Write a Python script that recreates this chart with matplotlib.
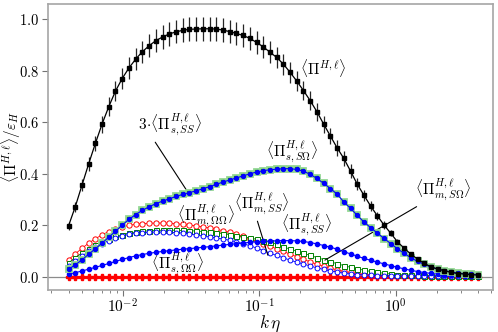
import math
import matplotlib
matplotlib.use("Agg")
import matplotlib.pyplot as plt
from matplotlib.ticker import FixedLocator, FuncFormatter, LogLocator, NullFormatter

plt.rcParams["mathtext.fontset"] = "cm"
plt.rcParams["font.family"] = "serif"
plt.rcParams["font.serif"] = ["DejaVu Serif"]

# wavenumber grid (k eta)
k_eta = [0.00400, 0.00448, 0.00502, 0.00562, 0.00629, 0.00704, 0.00789, 0.00883,
         0.00989, 0.01108, 0.01241, 0.01389, 0.01556, 0.01743, 0.01952, 0.02186,
         0.02448, 0.02741, 0.03070, 0.03438, 0.03850, 0.04312, 0.04829, 0.05408,
         0.06056, 0.06782, 0.07595, 0.08506, 0.09526, 0.1067, 0.1195, 0.1338,
         0.1498, 0.1678, 0.1879, 0.2104, 0.2357, 0.2639, 0.2956, 0.3310,
         0.3707, 0.4151, 0.4649, 0.5206, 0.5830, 0.6529, 0.7312, 0.8189,
         0.9170, 1.027, 1.150, 1.288, 1.442, 1.615, 1.809, 2.026,
         2.269, 2.541, 2.845, 3.186, 3.568, 3.996]

# total <Pi^{H,l}> and its error bars
pi_tot = [0.197, 0.271, 0.355, 0.438, 0.517, 0.592, 0.660, 0.720, 0.769, 0.810,
          0.844, 0.873, 0.896, 0.916, 0.930, 0.942, 0.950, 0.956, 0.960, 0.961,
          0.962, 0.962, 0.961, 0.957, 0.951, 0.944, 0.936, 0.925, 0.909, 0.892,
          0.871, 0.851, 0.825, 0.793, 0.759, 0.722, 0.683, 0.640, 0.592, 0.546,
          0.500, 0.459, 0.410, 0.359, 0.316, 0.274, 0.236, 0.200, 0.168, 0.135,
          0.110, 0.087, 0.068, 0.051, 0.038, 0.029, 0.023, 0.016, 0.012, 0.010,
          0.007, 0.006]
pi_tot_err = [0.015, 0.019, 0.024, 0.027, 0.030, 0.033, 0.036, 0.038, 0.040, 0.041,
              0.042, 0.043, 0.044, 0.045, 0.045, 0.045, 0.045, 0.046, 0.046, 0.046,
              0.046, 0.046, 0.046, 0.046, 0.045, 0.045, 0.045, 0.044, 0.044, 0.043,
              0.042, 0.042, 0.041, 0.040, 0.039, 0.038, 0.036, 0.035, 0.033, 0.032,
              0.030, 0.028, 0.026, 0.024, 0.021, 0.019, 0.016, 0.014, 0.012, 0.010,
              0.008, 0.007, 0.006, 0.005, 0.004, 0.003, 0.003, 0.002, 0.002, 0.002,
              0.001, 0.001]

# <Pi_{s,SS}>
pi_s_ss = [0.0093, 0.0153, 0.0217, 0.0290, 0.0360, 0.0433, 0.0510, 0.0587, 0.0667, 0.0740,
           0.0803, 0.0857, 0.0903, 0.0943, 0.0977, 0.1007, 0.1037, 0.1063, 0.1087, 0.1110,
           0.1137, 0.1163, 0.1193, 0.1223, 0.1250, 0.1277, 0.1303, 0.1330, 0.1353, 0.1370,
           0.1383, 0.1390, 0.1397, 0.1397, 0.1387, 0.1363, 0.1323, 0.1270, 0.1207, 0.1140,
           0.1067, 0.0967, 0.0883, 0.0793, 0.0707, 0.0633, 0.0563, 0.0493, 0.0427, 0.0360,
           0.0300, 0.0243, 0.0197, 0.0157, 0.0123, 0.0097, 0.0077, 0.0060, 0.0047, 0.0037,
           0.0030, 0.0027]

# <Pi_{s,S Omega}>
pi_s_so = [0.028, 0.046, 0.065, 0.087, 0.108, 0.130, 0.153, 0.176, 0.200, 0.222,
           0.241, 0.257, 0.271, 0.283, 0.293, 0.302, 0.311, 0.319, 0.326, 0.333,
           0.341, 0.349, 0.358, 0.367, 0.375, 0.383, 0.391, 0.399, 0.406, 0.411,
           0.415, 0.417, 0.419, 0.419, 0.416, 0.409, 0.397, 0.381, 0.362, 0.342,
           0.320, 0.290, 0.265, 0.238, 0.212, 0.190, 0.169, 0.148, 0.128, 0.108,
           0.090, 0.073, 0.059, 0.047, 0.037, 0.029, 0.023, 0.018, 0.014, 0.011,
           0.009, 0.008]

# <Pi_{s,Omega Omega}>
pi_s_oo = [0.0, 0.0, 0.0, 0.0, 0.0, 0.0, 0.0, 0.0, 0.0, 0.0,
           0.0, 0.0, 0.0, 0.0, 0.0, 0.0, 0.0, 0.0, 0.0, 0.0,
           0.0, 0.0, 0.0, 0.0, 0.0, 0.0, 0.0, 0.0, 0.0, 0.0,
           0.0, 0.0, 0.0, 0.0, 0.0, 0.0, 0.0, 0.0, 0.0, 0.0,
           0.0, 0.0, 0.0, 0.0, 0.0, 0.0, 0.0, 0.0, 0.0, 0.0,
           0.0, 0.0, 0.0, 0.0, 0.0, 0.0, 0.0, 0.0, 0.0, 0.0,
           0.0, 0.0]

# <Pi_{m,Omega Omega}>
pi_m_oo = [0.066, 0.088, 0.110, 0.130, 0.147, 0.162, 0.175, 0.185, 0.193, 0.199,
           0.203, 0.206, 0.207, 0.208, 0.208, 0.207, 0.205, 0.203, 0.200, 0.197,
           0.193, 0.189, 0.184, 0.178, 0.172, 0.165, 0.156, 0.146, 0.138, 0.128,
           0.118, 0.108, 0.098, 0.087, 0.077, 0.067, 0.057, 0.048, 0.040, 0.033,
           0.026, 0.020, 0.016, 0.012, 0.009, 0.007, 0.006, 0.005, 0.004, 0.003,
           0.003, 0.002, 0.002, 0.002, 0.002, 0.001, 0.001, 0.001, 0.001, 0.001,
           0.001, 0.001]

# <Pi_{m,S Omega}>
pi_m_so = [0.053, 0.074, 0.092, 0.108, 0.121, 0.134, 0.146, 0.156, 0.163, 0.169,
           0.173, 0.176, 0.178, 0.179, 0.180, 0.180, 0.180, 0.179, 0.178, 0.177,
           0.175, 0.173, 0.170, 0.167, 0.163, 0.159, 0.155, 0.150, 0.145, 0.139,
           0.133, 0.127, 0.115, 0.107, 0.099, 0.091, 0.082, 0.074, 0.066, 0.058,
           0.050, 0.043, 0.036, 0.030, 0.025, 0.020, 0.016, 0.013, 0.010, 0.008,
           0.007, 0.006, 0.005, 0.004, 0.004, 0.003, 0.003, 0.002, 0.002, 0.002,
           0.002, 0.001]

# <Pi_{m,SS}>
pi_m_ss = [0.040, 0.060, 0.080, 0.098, 0.113, 0.127, 0.140, 0.150, 0.158, 0.164,
           0.168, 0.171, 0.172, 0.173, 0.173, 0.172, 0.171, 0.169, 0.166, 0.162,
           0.157, 0.154, 0.150, 0.146, 0.141, 0.135, 0.128, 0.120, 0.111, 0.101,
           0.091, 0.082, 0.073, 0.064, 0.056, 0.049, 0.041, 0.034, 0.028, 0.022,
           0.018, 0.013, 0.010, 0.008, 0.006, 0.005, 0.004, 0.003, 0.003, 0.002,
           0.002, 0.002, 0.001, 0.001, 0.001, 0.001, 0.001, 0.001, 0.001, 0.001,
           0.001, 0.001]

fig = plt.figure(figsize=(4.98, 3.32), dpi=100)
ax = fig.add_axes([0.0964, 0.1265, 0.8926, 0.8605])

ax.axhline(0, color="0.55", lw=0.9, zorder=0)

ax.plot(k_eta, pi_s_oo, "-P", color="red", ms=4.5, lw=0.8, zorder=3)
ax.plot(k_eta, pi_m_oo, "-o", color="red", mfc="white", ms=3.8, mew=0.7, lw=0.6, zorder=3)
ax.plot(k_eta, pi_m_so, "-s", color="green", mfc="white", ms=3.6, mew=0.7, lw=0.6, zorder=3)
ax.plot(k_eta, pi_m_ss, "-o", color="blue", mfc="white", ms=3.5, mew=0.7, lw=0.6, zorder=3)
ax.plot(k_eta, pi_s_ss, "-o", color="blue", ms=3.0, lw=0.8, zorder=4)
ax.plot(k_eta, [3 * v for v in pi_s_ss], "s", color="#1f8a1f", mec="#94d894",
        ms=5.0, mew=1.3, zorder=4)
ax.plot(k_eta, pi_s_so, "-o", color="blue", ms=2.8, lw=0.8, zorder=5)
ax.errorbar(k_eta, pi_tot, yerr=pi_tot_err, fmt="-s", color="black", ms=3.0,
            lw=0.9, ecolor="0.15", elinewidth=0.9, zorder=6)

ax.set_xscale("log")
ax.set_xlim(0.00283, 5.1)
ax.set_ylim(-0.052, 1.057)

ax.xaxis.set_major_locator(FixedLocator([0.01, 0.1, 1.0]))
ax.xaxis.set_major_formatter(FuncFormatter(lambda v, p: r"$10^{%d}$" % round(math.log10(v))))
ax.xaxis.set_minor_locator(LogLocator(base=10, subs=range(2, 10)))
ax.xaxis.set_minor_formatter(NullFormatter())
ax.yaxis.set_major_locator(FixedLocator([0.0, 0.2, 0.4, 0.6, 0.8, 1.0]))
ax.yaxis.set_major_formatter(FuncFormatter(lambda v, p: r"$%.1f$" % v))

for s in ax.spines.values():
    s.set_color("0.65")
    s.set_linewidth(1.2)
ax.tick_params(which="both", colors="0.45", labelcolor="black", labelsize=11)
ax.tick_params(axis="y", labelsize=10.5)
ax.tick_params(which="major", length=4, pad=2.5)
ax.tick_params(axis="x", which="major", pad=1.5)
ax.tick_params(which="minor", length=2)

ax.set_xlabel(r"$k\,\eta$", fontsize=12.5)
ax.xaxis.set_label_coords(0.5, -0.082)
ax.set_ylabel(r"$\langle\Pi^{H,\ell}\rangle/\varepsilon_H$", fontsize=11)
ax.yaxis.set_label_coords(-0.056, 0.5)

fs = 11
ax.text(0.292, 0.81, r"$\langle\Pi^{H,\ell}\rangle$", fontsize=fs, ha="center", va="center")
ax.text(0.173, 0.483, r"$\langle\Pi^{H,\ell}_{s,S\Omega}\rangle$", fontsize=fs, ha="center", va="center")
ax.text(0.0406, 0.235, r"$\langle\Pi^{H,\ell}_{m,\Omega\Omega}\rangle$", fontsize=fs, ha="center", va="center")
ax.text(0.223, 0.20, r"$\langle\Pi^{H,\ell}_{s,SS}\rangle$", fontsize=fs, ha="center", va="center")
ax.text(0.0253, 0.0485, r"$\langle\Pi^{H,\ell}_{s,\Omega\Omega}\rangle$", fontsize=fs, ha="center", va="center")

line = dict(arrowstyle="-", color="black", lw=0.8, shrinkA=1, shrinkB=0)
ax.annotate(r"$3\!\cdot\!\langle\Pi^{H,\ell}_{s,SS}\rangle$", xy=(0.0299, 0.328),
            xytext=(0.0221, 0.588), fontsize=fs, ha="center", va="center",
            arrowprops=dict(line, relpos=(0.23, 0.0)))
ax.annotate(r"$\langle\Pi^{H,\ell}_{m,SS}\rangle$", xy=(0.1154, 0.083),
            xytext=(0.104, 0.282), fontsize=fs, ha="center", va="center",
            arrowprops=dict(line, relpos=(0.4, 0.0)))
ax.annotate(r"$\langle\Pi^{H,\ell}_{m,S\Omega}\rangle$", xy=(0.302, 0.064),
            xytext=(2.21, 0.336), fontsize=fs, ha="center", va="center",
            arrowprops=dict(line, relpos=(0.14, 0.0)))

fig.savefig("out.png", dpi=100)
